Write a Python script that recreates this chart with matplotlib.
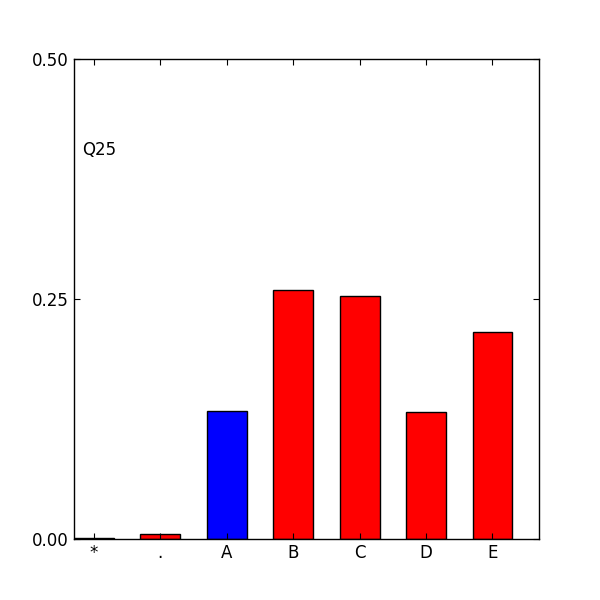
import matplotlib
matplotlib.use("Agg")
import matplotlib.pyplot as plt

categories = ["*", ".", "A", "B", "C", "D", "E"]
values = [0.001, 0.005, 0.1335, 0.259, 0.253, 0.132, 0.216]
colors = ["red", "red", "blue", "red", "red", "red", "red"]
yticks = [0.0, 0.25, 0.5]
ytick_labels = ["0.00", "0.25", "0.50"]
label = "Q25"

fig = plt.figure(figsize=(6, 6), dpi=100)
ax = fig.add_axes([0.1233, 0.1017, 0.775, 0.8])
x = list(range(len(categories)))
ax.bar(x, values, width=0.6, align="edge", color=colors, edgecolor="black", linewidth=1)
ax.set_xlim(0, len(categories))
ax.set_ylim(0, 0.5)
ax.set_xticks([i + 0.3 for i in x])
ax.set_xticklabels(categories, fontsize=12)
ax.set_yticks(yticks)
ax.set_yticklabels(ytick_labels, fontsize=12)
ax.tick_params(direction="in", top=True, right=True, length=4, width=0.8, pad=3.5)
for s in ax.spines.values():
    s.set_linewidth(1)
ax.text(0.13, 0.396, label, fontsize=12, va="bottom", ha="left")
fig.savefig("out.png", dpi=100)
